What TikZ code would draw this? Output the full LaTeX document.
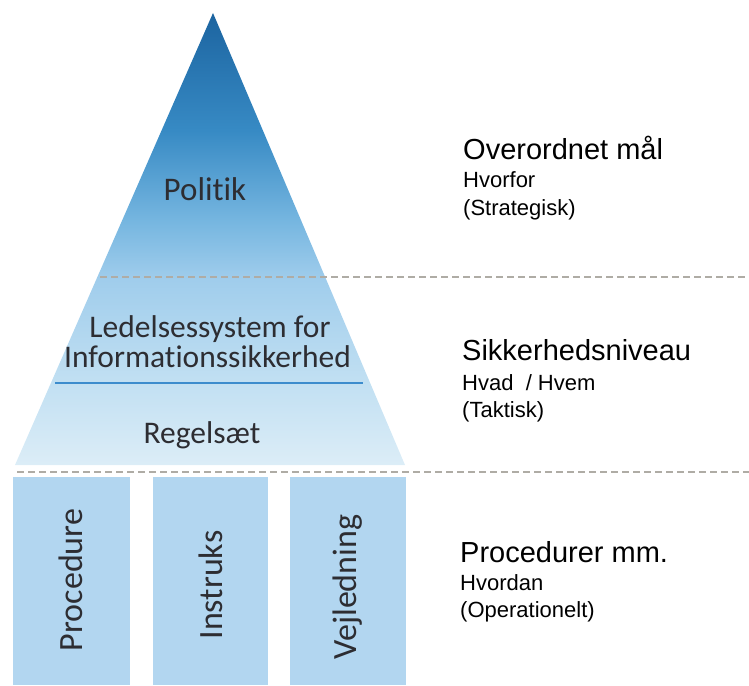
\documentclass[tikz,border=0pt]{standalone}
\usepackage{fontspec}
\setmainfont{Carlito}[Ligatures={NoCommon}]
\newfontfamily\arialfont{Liberation Sans}
\definecolor{pc0}{RGB}{220,237,247}
\definecolor{pc1}{RGB}{192,223,242}
\definecolor{pc2}{RGB}{160,205,236}
\definecolor{pc3}{RGB}{118,182,224}
\definecolor{pc4}{RGB}{55,138,196}
\definecolor{pc5}{RGB}{28,100,160}
\definecolor{colfill}{RGB}{178,214,240}
\definecolor{dashgray}{RGB}{175,172,165}
\definecolor{bluerule}{RGB}{60,140,205}
\definecolor{txtgray}{RGB}{45,45,50}
\pgfdeclareverticalshading{pyrshade}{100bp}{color(0bp)=(pc0); color(25bp)=(pc0); color(34.6bp)=(pc1); color(45.5bp)=(pc2); color(52bp)=(pc3); color(62bp)=(pc4); color(75bp)=(pc5); color(100bp)=(pc5)}
\tikzset{
  pyrtext/.style={anchor=base, inner sep=0pt, text=txtgray, font=\fontsize{31.5}{36}\selectfont},
  coltext/.style={anchor=base, inner sep=0pt, rotate=90, text=txtgray, font=\fontsize{34}{40}\selectfont},
  column/.style={fill=colfill, draw=none},
  levelline/.style={draw=dashgray, line width=1.8pt, dash pattern=on 7pt off 4pt},
  headtext/.style={anchor=base west, inner sep=0pt, font=\arialfont\fontsize{29}{34}\selectfont},
  subtext/.style={anchor=base west, inner sep=0pt, font=\arialfont\fontsize{22}{26}\selectfont}
}
\begin{document}
\begin{tikzpicture}[x=1pt,y=-1pt]
\useasboundingbox (0,0) rectangle (749,685);
% pyramid
\shade[shading=pyrshade] (213,13) -- (405,465) -- (15,465) -- cycle;
% columns
\path[column] (13,477) rectangle (130,685);
\path[column] (153,477) rectangle (268,685);
\path[column] (290,477) rectangle (406,685);
% lines
\coordinate (l1a) at (100,277);
\coordinate (l1b) at (749,277);
\coordinate (l2a) at (17,472);
\coordinate (l2b) at (749,472);
\coordinate (bla) at (55,383);
\coordinate (blb) at (363,383);
\draw[levelline] (l1a) -- (l1b);
\draw[levelline] (l2a) -- (l2b);
\draw[bluerule, line width=1.2pt] (bla) -- (blb);
% pyramid texts
\node[pyrtext, font=\fontsize{33}{38}\selectfont] (politik) at (205,200) {Politik};
\node[pyrtext] (ledelse) at (210,337) {Ledelsessystem for};
\node[pyrtext] (info) at (207.5,367) {Informationssikkerhed};
\node[pyrtext] (regel) at (202,443) {Regelsæt};
% column texts
\node[coltext] (proc) at (82,580) {Procedure};
\node[coltext] (instr) at (222,585) {Instruks};
\node[coltext] (vejl) at (356,587) {Vejledning};
% right texts
\node[headtext] (h1) at (463,159) {Overordnet mål};
\node[subtext] (s1a) at (463,187) {Hvorfor};
\node[subtext] (s1b) at (463,215) {(Strategisk)};
\node[headtext] (h2) at (462,360) {Sikkerhedsniveau};
\node[subtext] (s2a) at (462,390) {Hvad\ \ / Hvem};
\node[subtext] (s2b) at (462,417) {(Taktisk)};
\node[headtext] (h3) at (460,562) {Procedurer mm.};
\node[subtext] (s3a) at (460,590) {Hvordan};
\node[subtext] (s3b) at (460,617) {(Operationelt)};
\end{tikzpicture}
\end{document}
